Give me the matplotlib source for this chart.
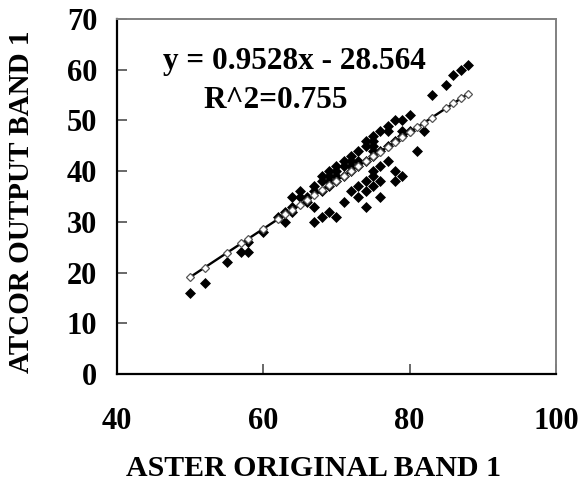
import matplotlib
matplotlib.use("Agg")
import matplotlib.pyplot as plt
import numpy as np

# ---- data ----
aster_x = [50, 52, 55, 57, 58, 58, 60, 62,
           63, 63, 64, 64, 65, 66, 66, 67, 67, 67, 68, 68, 68, 68, 69, 69, 69, 69, 69,
           70, 70, 70, 70,
           71, 71, 71, 71, 72, 72, 72, 72, 73, 73, 73, 73, 74, 74, 74, 74, 74, 74,
           75, 75, 75, 75, 75, 75, 75, 76, 76, 76, 76, 76, 77, 77, 77, 77,
           78, 78, 78, 78, 79, 79, 79, 79, 80, 80, 81, 82, 83, 85, 86, 87, 88,
           64, 65, 67, 70, 72, 73, 75]
atcor_y = [16, 18, 22, 24, 24, 26, 28, 31,
           30, 32, 33, 32, 35, 35, 34, 33, 30, 36, 31, 38, 39, 36, 32, 37, 38, 39, 40,
           31, 40, 41, 38,
           34, 41, 42, 39, 36, 43, 40, 42, 35, 37, 44, 41, 33, 36, 38, 45, 46, 42,
           37, 39, 40, 45, 46, 47, 43, 35, 38, 41, 48, 44, 42, 48, 49, 45,
           38, 40, 50, 46, 39, 48, 50, 47, 51, 48, 44, 48, 55, 57, 59, 60, 61,
           35, 36, 37, 39, 41, 42, 44]

slope = 0.9528
intercept = -28.564
eq_text = "y = 0.9528x - 28.564"
r2_text = "R^2=0.755"
x_ticks = [40, 60, 80, 100]
y_ticks = [0, 10, 20, 30, 40, 50, 60, 70]
x_label = "ASTER ORIGINAL BAND 1"
y_label = "ATCOR OUTPUT BAND 1"

plt.rcParams['font.family'] = ['Liberation Serif', 'DejaVu Serif']
plt.rcParams['font.weight'] = 'bold'

W, H = 581, 491
fig = plt.figure(figsize=(W / 100, H / 100), dpi=100)
L, R, T, B = 116.7, 556, 19, 374
ax = fig.add_axes([L / W, (H - B) / H, (R - L) / W, (B - T) / H])

ax.scatter(aster_x, atcor_y, marker='D', s=5.6 ** 2, color='black', linewidths=0, zorder=3)

fit_x = np.array(sorted(set(aster_x)), dtype=float)
fit_y = slope * fit_x + intercept
ax.plot(fit_x, fit_y, color='black', lw=1.7, marker='D', markersize=3.8,
        markerfacecolor='white', markeredgecolor='#555555', markeredgewidth=0.9, zorder=4)

ax.set_xlim(40, 100)
ax.set_ylim(0, 70)
ax.set_xticks(x_ticks)
ax.set_yticks(y_ticks)
ax.tick_params(axis='both', direction='in', length=7.5, width=1.1, color='#404040',
               labelsize=22)
ax.tick_params(axis='x', pad=24)
ax.tick_params(axis='y', pad=14)
for lab in ax.get_xticklabels() + ax.get_yticklabels():
    lab.set_fontweight('bold')

for s in ['left', 'bottom']:
    ax.spines[s].set_color('black')
    ax.spines[s].set_linewidth(1.6)
for s in ['top', 'right']:
    ax.spines[s].set_color('#808080')
    ax.spines[s].set_linewidth(1.4)

fig.text(294 / W, 1 - 62 / H, eq_text, ha='center', va='center', fontsize=22.5, fontweight='bold')
fig.text(276 / W, 1 - 100 / H, r2_text, ha='center', va='center', fontsize=22.5, fontweight='bold')

fig.text(314 / W, 1 - 468 / H, x_label, ha='center', va='center', fontsize=21.5, fontweight='bold')
fig.text(22 / W, 1 - 202 / H, y_label, ha='center', va='center', rotation=90, fontsize=21, fontweight='bold')

fig.savefig("out.png", dpi=100)
